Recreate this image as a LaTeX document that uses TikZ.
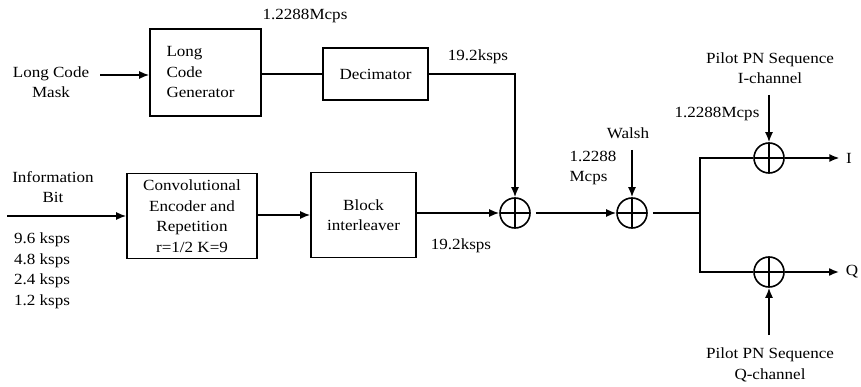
\documentclass[tikz,border=0pt]{standalone}
\usepackage{fontspec}
\setmainfont{Liberation Serif}[FakeStretch=1.1]
\usetikzlibrary{arrows.meta}
\begin{document}
\begin{tikzpicture}[x=1pt,y=-1pt,
  font=\fontsize{15.5}{20.5}\selectfont,
  line width=1.6pt,
  arr/.style={-{Latex[length=10pt,width=8pt]}},
  blockbox/.style={draw,rectangle,inner sep=2pt},
  xorc/.style={draw,circle,minimum size=30pt,inner sep=0pt,
    path picture={\draw[line width=1.8pt] (path picture bounding box.north) -- (path picture bounding box.south)
      (path picture bounding box.west) -- (path picture bounding box.east);}},
  lbl/.style={inner sep=0pt,align=center}]
\useasboundingbox (0,0) rectangle (861,387);

% blocks
\node[blockbox,minimum width=111pt,minimum height=87pt,text width=100pt,align=left] (lcg) at (205.5,72.5) {\hspace*{11pt}Long\\\hspace*{11pt}Code\\\hspace*{11pt}Generator};
\node[blockbox,minimum width=105pt,minimum height=52pt] (dec) at (375.5,74) {Decimator};
\node[blockbox,minimum width=130pt,minimum height=85pt,align=center] (conv) at (192,216) {Convolutional\\Encoder and\\Repetition\\r=1/2 K=9};
\node[blockbox,minimum width=105pt,minimum height=85pt,align=center] (blk) at (363.5,215) {Block\\interleaver};

% xor nodes
\node[xorc] (x1) at (515,213) {};
\node[xorc] (x2) at (632,213) {};
\node[xorc] (xi) at (769,158) {};
\node[xorc] (xq) at (769,272) {};

% labels
\node[lbl] (lcm) at (51,82) {Long Code\\Mask};
\node[lbl] at (305,16) {1.2288Mcps};
\node[lbl] at (478,57) {19.2ksps};
\node[lbl] (info) at (53,187) {Information\\Bit};
\node[lbl,align=left] at (42,271) {9.6 ksps\\4.8 ksps\\2.4 ksps\\1.2 ksps};
\node[lbl] at (461,246) {19.2ksps};
\node[lbl] at (628,133) {Walsh};
\node[lbl,align=left] at (593,168) {1.2288\\Mcps};
\node[lbl] at (770,68) {Pilot PN Sequence\\I-channel};
\node[lbl] at (717,114) {1.2288Mcps};
\node[lbl] at (770,365) {Pilot PN Sequence\\Q-channel};
\node[lbl] (iout) at (849,158) {I};
\node[lbl] (qout) at (852,272) {Q};

% coordinates
\coordinate (lcmend) at (100,75);
\coordinate (infostart) at (7,216);
\coordinate (walshtop) at (632,150);
\coordinate (branch) at (700,213);
\coordinate (pnitop) at (769,95);
\coordinate (pnqbot) at (769,335);

% connectors
\draw[arr] (lcmend) -- (lcg.west |- lcmend);
\draw (lcg.east |- dec.west) -- (dec.west);
\draw[arr] (dec.east) -| (x1.north);
\draw[arr] (infostart) -- (conv.west |- infostart);
\draw[arr] (conv.east |- blk.west) -- (blk.west);
\draw[arr] (blk.east |- x1.west) -- (x1.west);
\draw[arr,shorten <=5pt] (x1.east) -- (x2.west);
\draw[arr] (walshtop) -- (x2.north);
\draw[shorten <=5pt] (x2.east) -- (branch);
\draw (branch) |- (xi.west);
\draw (branch) |- (xq.west);
\draw[arr] (xi.east) -- ([xshift=-6pt]iout.west);
\draw[arr] (xq.east) -- ([xshift=-6pt]qout.west);
\draw[arr] (pnitop) -- (xi.north);
\draw[arr] (pnqbot) -- (xq.south);
\end{tikzpicture}
\end{document}
